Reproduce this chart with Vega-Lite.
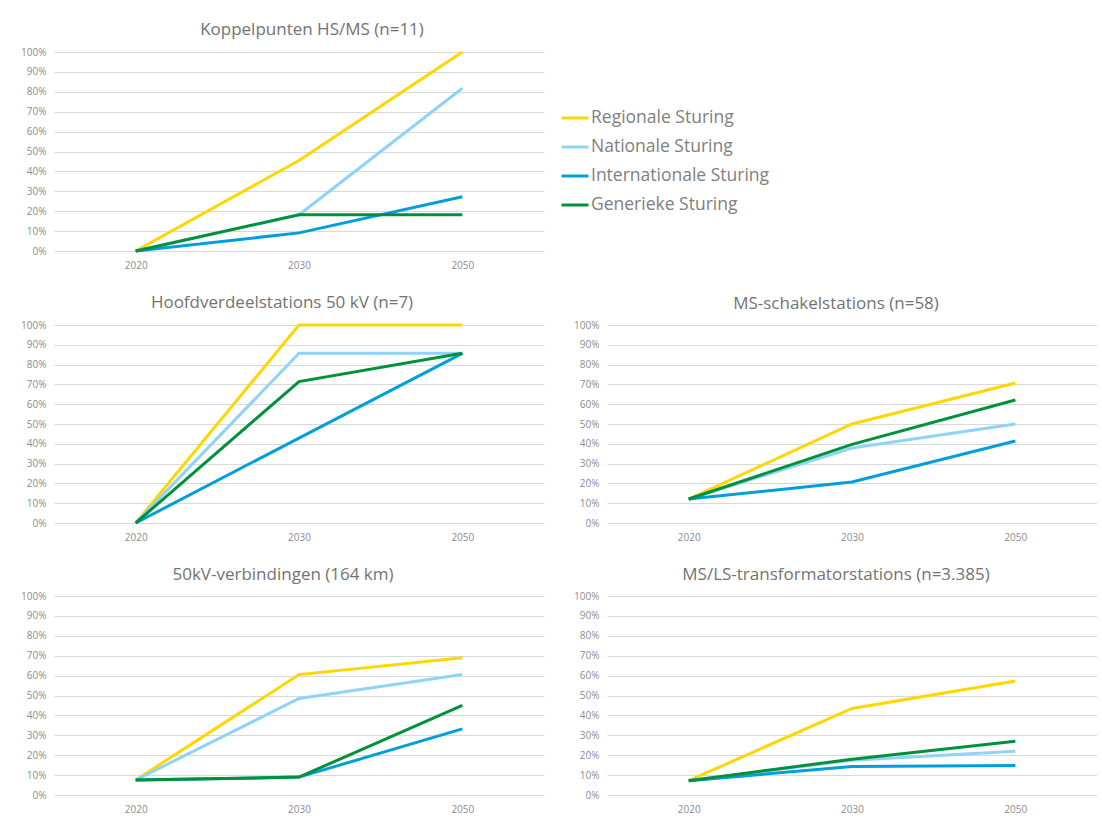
{
  "$schema": "https://vega.github.io/schema/vega-lite/v6.json",
  "padding": {"left": 20, "top": 21, "right": 0, "bottom": 0},
  "background": "white",
  "config": {
    "font": "Open Sans",
    "view": {"stroke": null},
    "axis": {"domain": false, "ticks": false, "labelColor": "#8c8c8c", "labelFontSize": 10, "gridColor": "#d9d9d9", "gridWidth": 1, "title": null},
    "axisX": {"grid": false, "labelAngle": 0, "labelPadding": 9},
    "axisY": {"grid": true, "labelPadding": 8},
    "title": {"fontSize": 17, "color": "#737373", "fontWeight": "normal", "offset": 7},
    "legend": {"orient": "none", "legendX": 506, "legendY": 51, "title": null, "symbolType": "stroke", "symbolSize": 729, "symbolStrokeWidth": 3, "labelFontSize": 17.5, "labelColor": "#808080", "labelOffset": 1, "rowPadding": 5, "labelLimit": 0}
  },
  "data": {"values": [
    {"onderdeel": "Koppelpunten", "jaar": "2020", "sturing": "Regionale Sturing", "aandeel": 0},
    {"onderdeel": "Koppelpunten", "jaar": "2030", "sturing": "Regionale Sturing", "aandeel": 0.455},
    {"onderdeel": "Koppelpunten", "jaar": "2050", "sturing": "Regionale Sturing", "aandeel": 1.0},
    {"onderdeel": "Koppelpunten", "jaar": "2020", "sturing": "Nationale Sturing", "aandeel": 0},
    {"onderdeel": "Koppelpunten", "jaar": "2030", "sturing": "Nationale Sturing", "aandeel": 0.182},
    {"onderdeel": "Koppelpunten", "jaar": "2050", "sturing": "Nationale Sturing", "aandeel": 0.818},
    {"onderdeel": "Koppelpunten", "jaar": "2020", "sturing": "Internationale Sturing", "aandeel": 0},
    {"onderdeel": "Koppelpunten", "jaar": "2030", "sturing": "Internationale Sturing", "aandeel": 0.091},
    {"onderdeel": "Koppelpunten", "jaar": "2050", "sturing": "Internationale Sturing", "aandeel": 0.273},
    {"onderdeel": "Koppelpunten", "jaar": "2020", "sturing": "Generieke Sturing", "aandeel": 0},
    {"onderdeel": "Koppelpunten", "jaar": "2030", "sturing": "Generieke Sturing", "aandeel": 0.182},
    {"onderdeel": "Koppelpunten", "jaar": "2050", "sturing": "Generieke Sturing", "aandeel": 0.182},

    {"onderdeel": "Hoofdverdeelstations", "jaar": "2020", "sturing": "Regionale Sturing", "aandeel": 0},
    {"onderdeel": "Hoofdverdeelstations", "jaar": "2030", "sturing": "Regionale Sturing", "aandeel": 1.0},
    {"onderdeel": "Hoofdverdeelstations", "jaar": "2050", "sturing": "Regionale Sturing", "aandeel": 1.0},
    {"onderdeel": "Hoofdverdeelstations", "jaar": "2020", "sturing": "Nationale Sturing", "aandeel": 0},
    {"onderdeel": "Hoofdverdeelstations", "jaar": "2030", "sturing": "Nationale Sturing", "aandeel": 0.857},
    {"onderdeel": "Hoofdverdeelstations", "jaar": "2050", "sturing": "Nationale Sturing", "aandeel": 0.857},
    {"onderdeel": "Hoofdverdeelstations", "jaar": "2020", "sturing": "Internationale Sturing", "aandeel": 0},
    {"onderdeel": "Hoofdverdeelstations", "jaar": "2030", "sturing": "Internationale Sturing", "aandeel": 0.429},
    {"onderdeel": "Hoofdverdeelstations", "jaar": "2050", "sturing": "Internationale Sturing", "aandeel": 0.857},
    {"onderdeel": "Hoofdverdeelstations", "jaar": "2020", "sturing": "Generieke Sturing", "aandeel": 0},
    {"onderdeel": "Hoofdverdeelstations", "jaar": "2030", "sturing": "Generieke Sturing", "aandeel": 0.714},
    {"onderdeel": "Hoofdverdeelstations", "jaar": "2050", "sturing": "Generieke Sturing", "aandeel": 0.857},

    {"onderdeel": "MS-schakelstations", "jaar": "2020", "sturing": "Regionale Sturing", "aandeel": 0.121},
    {"onderdeel": "MS-schakelstations", "jaar": "2030", "sturing": "Regionale Sturing", "aandeel": 0.5},
    {"onderdeel": "MS-schakelstations", "jaar": "2050", "sturing": "Regionale Sturing", "aandeel": 0.707},
    {"onderdeel": "MS-schakelstations", "jaar": "2020", "sturing": "Nationale Sturing", "aandeel": 0.121},
    {"onderdeel": "MS-schakelstations", "jaar": "2030", "sturing": "Nationale Sturing", "aandeel": 0.379},
    {"onderdeel": "MS-schakelstations", "jaar": "2050", "sturing": "Nationale Sturing", "aandeel": 0.5},
    {"onderdeel": "MS-schakelstations", "jaar": "2020", "sturing": "Internationale Sturing", "aandeel": 0.121},
    {"onderdeel": "MS-schakelstations", "jaar": "2030", "sturing": "Internationale Sturing", "aandeel": 0.207},
    {"onderdeel": "MS-schakelstations", "jaar": "2050", "sturing": "Internationale Sturing", "aandeel": 0.414},
    {"onderdeel": "MS-schakelstations", "jaar": "2020", "sturing": "Generieke Sturing", "aandeel": 0.121},
    {"onderdeel": "MS-schakelstations", "jaar": "2030", "sturing": "Generieke Sturing", "aandeel": 0.397},
    {"onderdeel": "MS-schakelstations", "jaar": "2050", "sturing": "Generieke Sturing", "aandeel": 0.621},

    {"onderdeel": "50kV-verbindingen", "jaar": "2020", "sturing": "Regionale Sturing", "aandeel": 0.075},
    {"onderdeel": "50kV-verbindingen", "jaar": "2030", "sturing": "Regionale Sturing", "aandeel": 0.605},
    {"onderdeel": "50kV-verbindingen", "jaar": "2050", "sturing": "Regionale Sturing", "aandeel": 0.69},
    {"onderdeel": "50kV-verbindingen", "jaar": "2020", "sturing": "Nationale Sturing", "aandeel": 0.075},
    {"onderdeel": "50kV-verbindingen", "jaar": "2030", "sturing": "Nationale Sturing", "aandeel": 0.485},
    {"onderdeel": "50kV-verbindingen", "jaar": "2050", "sturing": "Nationale Sturing", "aandeel": 0.605},
    {"onderdeel": "50kV-verbindingen", "jaar": "2020", "sturing": "Internationale Sturing", "aandeel": 0.075},
    {"onderdeel": "50kV-verbindingen", "jaar": "2030", "sturing": "Internationale Sturing", "aandeel": 0.09},
    {"onderdeel": "50kV-verbindingen", "jaar": "2050", "sturing": "Internationale Sturing", "aandeel": 0.332},
    {"onderdeel": "50kV-verbindingen", "jaar": "2020", "sturing": "Generieke Sturing", "aandeel": 0.075},
    {"onderdeel": "50kV-verbindingen", "jaar": "2030", "sturing": "Generieke Sturing", "aandeel": 0.09},
    {"onderdeel": "50kV-verbindingen", "jaar": "2050", "sturing": "Generieke Sturing", "aandeel": 0.45},

    {"onderdeel": "MS/LS-transformatorstations", "jaar": "2020", "sturing": "Regionale Sturing", "aandeel": 0.072},
    {"onderdeel": "MS/LS-transformatorstations", "jaar": "2030", "sturing": "Regionale Sturing", "aandeel": 0.435},
    {"onderdeel": "MS/LS-transformatorstations", "jaar": "2050", "sturing": "Regionale Sturing", "aandeel": 0.573},
    {"onderdeel": "MS/LS-transformatorstations", "jaar": "2020", "sturing": "Nationale Sturing", "aandeel": 0.072},
    {"onderdeel": "MS/LS-transformatorstations", "jaar": "2030", "sturing": "Nationale Sturing", "aandeel": 0.175},
    {"onderdeel": "MS/LS-transformatorstations", "jaar": "2050", "sturing": "Nationale Sturing", "aandeel": 0.22},
    {"onderdeel": "MS/LS-transformatorstations", "jaar": "2020", "sturing": "Internationale Sturing", "aandeel": 0.072},
    {"onderdeel": "MS/LS-transformatorstations", "jaar": "2030", "sturing": "Internationale Sturing", "aandeel": 0.143},
    {"onderdeel": "MS/LS-transformatorstations", "jaar": "2050", "sturing": "Internationale Sturing", "aandeel": 0.148},
    {"onderdeel": "MS/LS-transformatorstations", "jaar": "2020", "sturing": "Generieke Sturing", "aandeel": 0.072},
    {"onderdeel": "MS/LS-transformatorstations", "jaar": "2030", "sturing": "Generieke Sturing", "aandeel": 0.18},
    {"onderdeel": "MS/LS-transformatorstations", "jaar": "2050", "sturing": "Generieke Sturing", "aandeel": 0.27}
  ]},
  "spacing": 24,
  "vconcat": [
    {"hconcat": [
      {
        "title": {"text": "Koppelpunten HS/MS (n=11)", "dx": 13},
        "width": 490, "height": 199,
        "transform": [{"filter": {"field": "onderdeel", "equal": "Koppelpunten"}}],
        "mark": {"type": "line", "strokeWidth": 3},
        "encoding": {
          "x": {"field": "jaar", "type": "ordinal"},
          "y": {"field": "aandeel", "type": "quantitative", "scale": {"domain": [0, 1]}, "axis": {"format": ".0%", "values": [0, 0.1, 0.2, 0.3, 0.4, 0.5, 0.6, 0.7, 0.8, 0.9, 1]}},
          "color": {"field": "sturing", "type": "nominal", "scale": {"domain": ["Regionale Sturing", "Nationale Sturing", "Internationale Sturing", "Generieke Sturing"], "range": ["#FFD700", "#8FD3F8", "#009FDB", "#00913A"]}}
        }
      }
    ]},
    {"hconcat": [
      {
        "title": {"text": "Hoofdverdeelstations 50 kV (n=7)", "dx": -17},
        "width": 490, "height": 198,
        "transform": [{"filter": {"field": "onderdeel", "equal": "Hoofdverdeelstations"}}],
        "mark": {"type": "line", "strokeWidth": 3},
        "encoding": {
          "x": {"field": "jaar", "type": "ordinal"},
          "y": {"field": "aandeel", "type": "quantitative", "scale": {"domain": [0, 1]}, "axis": {"format": ".0%", "values": [0, 0.1, 0.2, 0.3, 0.4, 0.5, 0.6, 0.7, 0.8, 0.9, 1]}},
          "color": {"field": "sturing", "type": "nominal", "scale": {"domain": ["Regionale Sturing", "Nationale Sturing", "Internationale Sturing", "Generieke Sturing"], "range": ["#FFD700", "#8FD3F8", "#009FDB", "#00913A"]}}
        }
      },
      {
        "title": {"text": "MS-schakelstations (n=58)", "dx": -16},
        "width": 490, "height": 198,
        "transform": [{"filter": {"field": "onderdeel", "equal": "MS-schakelstations"}}],
        "mark": {"type": "line", "strokeWidth": 3},
        "encoding": {
          "x": {"field": "jaar", "type": "ordinal"},
          "y": {"field": "aandeel", "type": "quantitative", "scale": {"domain": [0, 1]}, "axis": {"format": ".0%", "values": [0, 0.1, 0.2, 0.3, 0.4, 0.5, 0.6, 0.7, 0.8, 0.9, 1]}},
          "color": {"field": "sturing", "type": "nominal", "scale": {"domain": ["Regionale Sturing", "Nationale Sturing", "Internationale Sturing", "Generieke Sturing"], "range": ["#FFD700", "#8FD3F8", "#009FDB", "#00913A"]}}
        }
      }
    ], "spacing": 29},
    {"hconcat": [
      {
        "title": {"text": "50kV-verbindingen (164 km)", "dx": -16},
        "width": 490, "height": 199,
        "transform": [{"filter": {"field": "onderdeel", "equal": "50kV-verbindingen"}}],
        "mark": {"type": "line", "strokeWidth": 3},
        "encoding": {
          "x": {"field": "jaar", "type": "ordinal"},
          "y": {"field": "aandeel", "type": "quantitative", "scale": {"domain": [0, 1]}, "axis": {"format": ".0%", "values": [0, 0.1, 0.2, 0.3, 0.4, 0.5, 0.6, 0.7, 0.8, 0.9, 1]}},
          "color": {"field": "sturing", "type": "nominal", "scale": {"domain": ["Regionale Sturing", "Nationale Sturing", "Internationale Sturing", "Generieke Sturing"], "range": ["#FFD700", "#8FD3F8", "#009FDB", "#00913A"]}}
        }
      },
      {
        "title": {"text": "MS/LS-transformatorstations (n=3.385)", "dx": -16},
        "width": 490, "height": 199,
        "transform": [{"filter": {"field": "onderdeel", "equal": "MS/LS-transformatorstations"}}],
        "mark": {"type": "line", "strokeWidth": 3},
        "encoding": {
          "x": {"field": "jaar", "type": "ordinal"},
          "y": {"field": "aandeel", "type": "quantitative", "scale": {"domain": [0, 1]}, "axis": {"format": ".0%", "values": [0, 0.1, 0.2, 0.3, 0.4, 0.5, 0.6, 0.7, 0.8, 0.9, 1]}},
          "color": {"field": "sturing", "type": "nominal", "scale": {"domain": ["Regionale Sturing", "Nationale Sturing", "Internationale Sturing", "Generieke Sturing"], "range": ["#FFD700", "#8FD3F8", "#009FDB", "#00913A"]}}
        }
      }
    ], "spacing": 29}
  ]
}
